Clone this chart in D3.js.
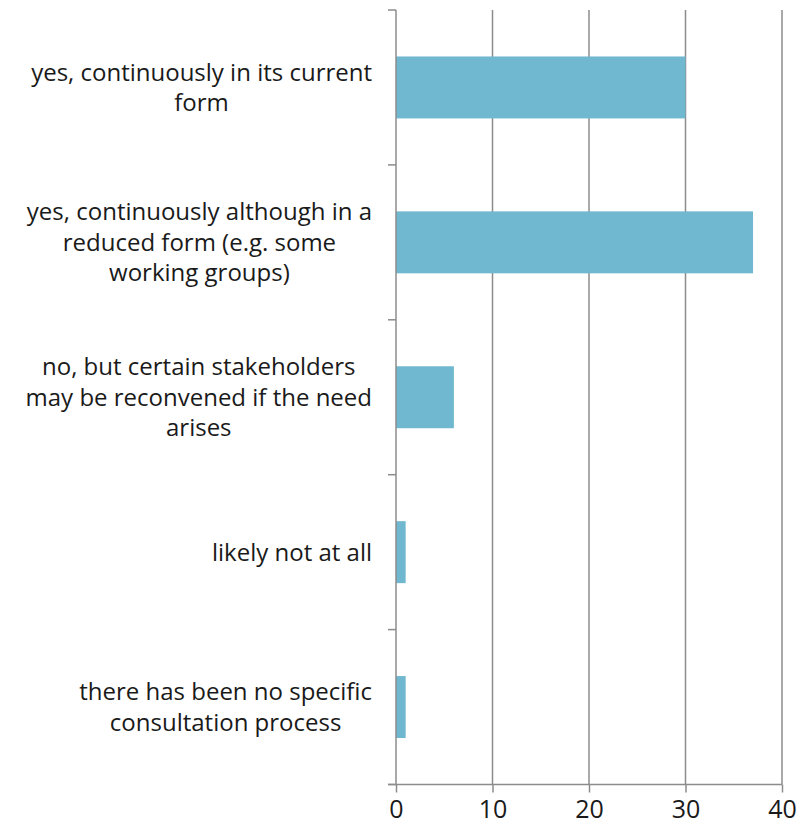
<!DOCTYPE html>
<html><head><meta charset="utf-8">
<script src="https://cdn.jsdelivr.net/npm/d3@7"></script>
<style>body{margin:0;background:#fff}svg{display:block}text{font-family:"Open Sans",sans-serif;fill:#1a1a1a}</style>
</head><body>
<script>
const categories = [
  ["yes, continuously in its current", "form"],
  ["yes, continuously although in a", "reduced form (e.g. some", "working groups)"],
  ["no, but certain stakeholders", "may be reconvened if the need", "arises"],
  ["likely not at all"],
  ["there has been no specific", "consultation process"]
];
const values = [30, 37, 6, 1, 1];
const xTicks = [0, 10, 20, 30, 40];

const W = 808, H = 828;
const svg = d3.select("body").append("svg").attr("width", W).attr("height", H);
const x = d3.scaleLinear().domain([0, 40]).range([396, 782]);
const ids = categories.map((c, i) => i);
const y = d3.scaleBand().domain(ids).range([10, 784.5]).paddingInner(0.6).paddingOuter(0.3);
const grey = "#8c8c8c";

// gridlines
svg.append("g").selectAll("line").data(xTicks.slice(1)).join("line")
  .attr("x1", d => x(d)).attr("x2", d => x(d)).attr("y1", 10).attr("y2", 784.5)
  .attr("stroke", grey).attr("stroke-width", 1.5);

// bars
svg.append("g").selectAll("rect").data(values).join("rect")
  .attr("x", x(0)).attr("y", (d, i) => y(i)).attr("height", y.bandwidth())
  .attr("width", d => x(d) - x(0)).attr("fill", "#6fb8cf");

// x axis
const xa = svg.append("g").attr("transform", "translate(0,784.5)")
  .call(d3.axisBottom(x).tickValues(xTicks).tickSize(8).tickPadding(8));
xa.select(".domain").attr("stroke", grey).attr("stroke-width", 1.5).attr("d", `M388,0H782`);
xa.selectAll(".tick line").attr("stroke", grey).attr("stroke-width", 1.5);
xa.selectAll(".tick text").attr("font-size", 25).attr("fill", "#1a1a1a").attr("font-family", "Open Sans");

// y axis line & boundary ticks
const step = y.step();
const bounds = d3.range(categories.length + 1).map(i => 10 + i * step);
svg.append("line").attr("x1", x(0)).attr("x2", x(0)).attr("y1", 10).attr("y2", 784.5)
  .attr("stroke", grey).attr("stroke-width", 1.5);
svg.append("g").selectAll("line").data(bounds).join("line")
  .attr("x1", 388).attr("x2", x(0)).attr("y1", d => d).attr("y2", d => d)
  .attr("stroke", grey).attr("stroke-width", 1.5);

// category labels
const lh = 30.5, fs = 24, rightEdge = 372;
categories.forEach((lines, i) => {
  const cy = y(i) + y.bandwidth() / 2;
  const g = svg.append("g");
  const ts = lines.map((t, k) => g.append("text").attr("font-size", fs)
    .attr("text-anchor", "middle").attr("dy", "0.35em")
    .attr("y", cy + (k - (lines.length - 1) / 2) * lh).text(t));
  const maxW = d3.max(ts, t => t.node().getComputedTextLength());
  ts.forEach(t => t.attr("x", rightEdge - maxW / 2));
});
</script>
</body></html>
